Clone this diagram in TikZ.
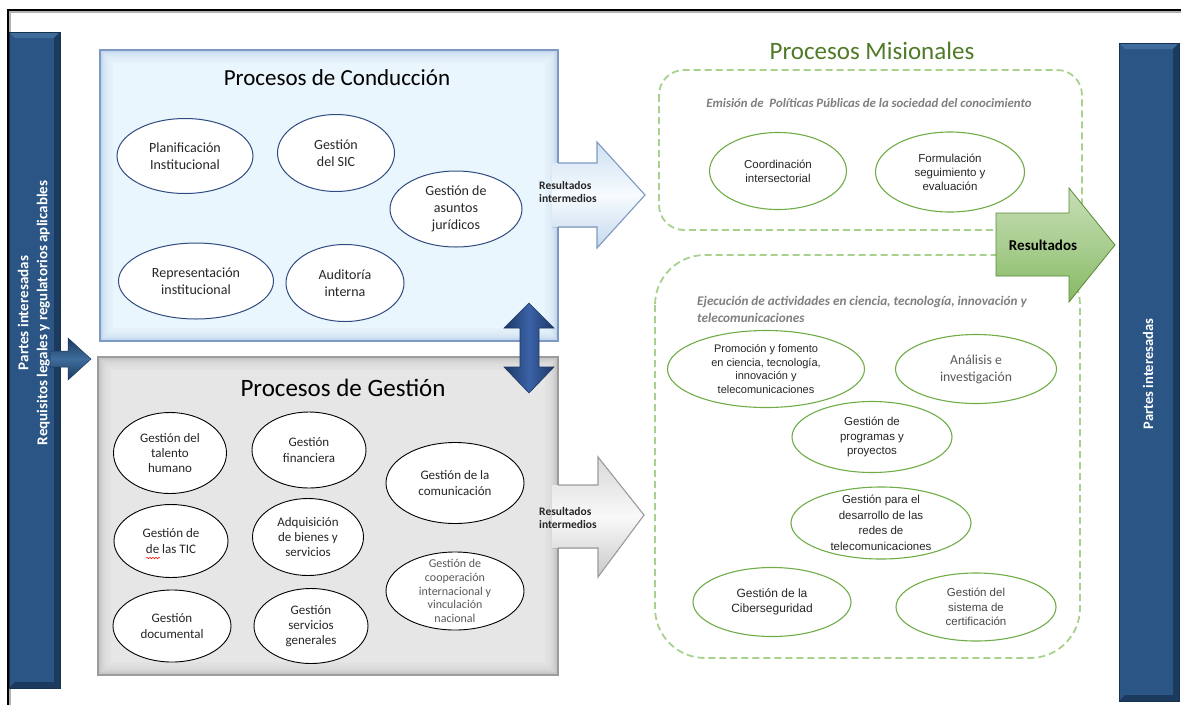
\documentclass[tikz,border=0pt]{standalone}
\usepackage{fontspec}
\setmainfont{Carlito}
\newfontfamily\arialf{Liberation Sans}
\usetikzlibrary{shapes.geometric,decorations.pathmorphing}
\definecolor{navy}{HTML}{1F3864}
\definecolor{midnavy}{HTML}{3A62A7}
\definecolor{barblue}{HTML}{2A5584}
\definecolor{barlight}{HTML}{3E6C9C}
\definecolor{bardark}{HTML}{1B3A5E}
\definecolor{barborder}{HTML}{17324F}
\definecolor{condfill}{HTML}{EAF6FD}
\definecolor{condedge}{HTML}{B8CFE8}
\definecolor{condborder}{HTML}{7F9AC2}
\definecolor{gestfill}{HTML}{E6E6E6}
\definecolor{gestedge}{HTML}{BDBDBD}
\definecolor{gestborder}{HTML}{9C9C9C}
\definecolor{ellblue}{HTML}{2F4A80}
\definecolor{misgreen}{HTML}{4F7A28}
\definecolor{dashgreen}{HTML}{A9D18E}
\definecolor{ellgreen}{HTML}{70AD47}
\definecolor{labgray}{HTML}{7F7F7F}
\definecolor{txtdark}{HTML}{262626}
\definecolor{txtgray}{HTML}{595959}
\newcommand\procell[7]{%
  \node[#2ell, minimum width=#4, minimum height=#5] (#1) at (#3) {};
  \node[#2txt, #6] (#1t) at (#1) {#7};}
\begin{document}
\begin{tikzpicture}[x=1pt,y=-1pt,
  condell/.style={ellipse,draw=ellblue,line width=1pt,fill=white,inner sep=0pt},
  condtxt/.style={align=center,inner sep=0pt,text=txtdark,font=\fontsize{14}{17}\selectfont},
  gestell/.style={ellipse,draw=black,line width=0.9pt,fill=white,inner sep=0pt},
  gesttxt/.style={align=center,inner sep=0pt,text=txtdark,font=\fontsize{13}{15.3}\selectfont},
  misell/.style={ellipse,draw=ellgreen,line width=1.1pt,fill=white,inner sep=0pt},
  mistxt/.style={align=center,inner sep=0pt,text=txtdark,font=\arialf\fontsize{11.5}{14}\selectfont},
  dashbox/.style={draw=dashgreen,line width=1.8pt,dash pattern=on 7pt off 4pt},
  barlabel/.style={rotate=90,align=center,text=white,inner sep=0pt,font=\bfseries\fontsize{15}{19}\selectfont},
  arrlabel/.style={align=left,inner sep=0pt,anchor=west,text=txtdark,font=\bfseries\fontsize{11.5}{13.5}\selectfont},
  cattxt/.style={inner sep=0pt,text=labgray,font=\bfseries\itshape\fontsize{12.8}{17}\selectfont}]
\useasboundingbox (0,0) rectangle (1181,705);
\fill[white] (0,0) rectangle (1181,705);
% outer frame
\draw[gray!60, line width=1.2pt] (10,705) -- (10,12) -- (1181,12);
\draw[black, line width=1.6pt] (8,705) -- (8,10) -- (1181,10);
% left bar
\fill[barblue] (9,32) rectangle (60,688);
\fill[barlight] (9,32) -- (60,32) -- (54,38) -- (15,38) -- cycle;
\fill[bardark] (60,32) -- (60,688) -- (54,682) -- (54,38) -- cycle;
\fill[bardark] (9,688) -- (60,688) -- (54,682) -- (15,682) -- cycle;
\draw[barborder, line width=0.6pt] (9,32) rectangle (60,688);
\node[barlabel] (leftlab) at (34,313) {Partes interesadas\\Requisitos legales y regulatorios aplicables};
% right bar
\fill[barblue] (1119,43) rectangle (1179,701);
\fill[barlight] (1119,43) -- (1179,43) -- (1173,49) -- (1125,49) -- cycle;
\fill[bardark] (1179,43) -- (1179,701) -- (1173,695) -- (1173,49) -- cycle;
\fill[bardark] (1119,701) -- (1179,701) -- (1173,695) -- (1125,695) -- cycle;
\draw[barborder, line width=0.6pt] (1119,43) rectangle (1179,701);
\node[barlabel, font=\bfseries\fontsize{14.5}{17}\selectfont] (rightlab) at (1148,374) {Partes interesadas};
% left small arrow
\path[draw=bardark, line width=0.5pt, top color=bardark, bottom color=bardark, middle color=barlight]
  (50,351) -- (68,351) -- (68,338) -- (91,359) -- (68,380) -- (68,367) -- (50,367) -- cycle;
% ---- Procesos de Conduccion box
\fill[condedge] (100,50) rectangle (558,341);
\foreach \k in {1,...,12} {\fill[condfill, opacity=0.2] ({100+\k},{50+\k}) rectangle ({558-\k},{341-\k});}
\fill[condfill] (113,63) rectangle (545,328);
\draw[condborder, line width=1.2pt] (100,50) rectangle (558,341);
\node[inner sep=0pt, font=\fontsize{23}{27}\selectfont] (condtitle) at (337,78) {Procesos de Conducción};
\procell{pl}{cond}{185,156}{136}{75}{}{Planificación\\Institucional}
\procell{sic}{cond}{336,153}{117}{77}{}{Gestión\\del SIC}
\procell{jur}{cond}{456,209}{132}{76}{}{Gestión de\\asuntos\\jurídicos}
\procell{rep}{cond}{196,281}{155}{76}{}{Representación\\institucional}
\procell{aud}{cond}{345,283}{118}{77}{}{Auditoría\\interna}
% ---- Procesos de Gestion box
\fill[gestedge] (98,357) rectangle (558,675);
\foreach \k in {1,...,12} {\fill[gestfill, opacity=0.2] ({98+\k},{357+\k}) rectangle ({558-\k},{675-\k});}
\fill[gestfill] (111,370) rectangle (545,662);
\draw[gestborder, line width=1.2pt] (98,357) rectangle (558,675);
\node[inner sep=0pt, font=\fontsize{25}{29}\selectfont] (gesttitle) at (343,388) {Procesos de Gestión};
\procell{tal}{gest}{170,453}{113}{81}{}{Gestión del\\talento\\humano}
\procell{fin}{gest}{309,450}{114}{76}{}{Gestión\\financiera}
\procell{com}{gest}{455,483}{138}{81}{}{Gestión de la\\comunicación}
\procell{tic}{gest}{171,541}{114}{73}{}{Gestión de\\de las TIC}
\procell{adq}{gest}{308,537}{111}{77}{}{Adquisición\\de bienes y\\servicios}
\procell{coop}{gest}{455,591}{138}{78}{text=txtgray,font=\fontsize{12}{13.8}\selectfont}{Gestión de\\cooperación\\internacional y\\vinculación\\nacional}
\procell{doc}{gest}{172,626}{118}{72}{}{Gestión\\documental}
\procell{ser}{gest}{311,626}{114}{75}{}{Gestión\\servicios\\generales}
\draw[red, line width=0.5pt, decorate, decoration={snake, amplitude=0.7pt, segment length=3pt}] (146,558) -- (160,558);
% ---- result arrows
\path[fill, top color=condedge!55!condfill, bottom color=condedge!75!condfill, middle color=condfill!40!white]
  (552,163) -- (597,163) -- (597,142) -- (645,195) -- (597,248) -- (597,227) -- (552,227) -- cycle;
\draw[condborder, line width=1.1pt, line join=miter]
  (558,163) -- (597,163) -- (597,142) -- (645,195) -- (597,248) -- (597,227) -- (558,227);
\node[arrlabel] (res1) at (539,192) {Resultados\\intermedios};
\path[fill, top color=gray!30, bottom color=gray!42, middle color=gray!5]
  (552,485) -- (598,485) -- (598,457) -- (644,515) -- (598,577) -- (598,548) -- (552,548) -- cycle;
\draw[gestborder, line width=1.1pt, line join=miter]
  (558,485) -- (598,485) -- (598,457) -- (644,515) -- (598,577) -- (598,548) -- (558,548);
\node[arrlabel] (res2) at (539,518) {Resultados\\intermedios};
% double arrow
\path[draw=navy, line width=0.6pt, left color=navy, right color=navy, middle color=midnavy]
  (504,328) -- (529,303) -- (554,328) -- (539,328) -- (539,367) -- (554,367) -- (529,393)
  -- (504,367) -- (520,367) -- (520,328) -- cycle;
% ---- Procesos Misionales
\node[inner sep=0pt, text=misgreen, font=\fontsize{25}{29}\selectfont] (mistitle) at (872,51) {Procesos Misionales};
\draw[dashbox, rounded corners=25pt] (659,70) rectangle (1082,230);
\draw[dashbox, rounded corners=50pt] (655,255) rectangle (1080,658);
\node[cattxt] (cat1) at (869,103) {Emisión de\ \ Políticas Públicas de la sociedad del conocimiento};
\node[cattxt, anchor=west, align=left, font=\bfseries\itshape\fontsize{13.2}{17}\selectfont] (cat2) at (697,309) {Ejecución de actividades en ciencia, tecnología, innovación y\\telecomunicaciones};
\procell{coord}{mis}{778,171}{137}{77}{}{Coordinación\\intersectorial}
\procell{form}{mis}{950,172}{149}{80}{}{Formulación\\seguimiento y\\evaluación}
\procell{prom}{mis}{766,369}{197}{77}{font=\arialf\fontsize{11}{13.8}\selectfont}{Promoción y fomento\\en ciencia, tecnología,\\innovación y\\telecomunicaciones}
\procell{anal}{mis}{976,369}{161}{69}{text=txtgray,font=\fontsize{13.7}{17}\selectfont}{Análisis e\\investigación}
\procell{prog}{mis}{872,437}{160}{71}{font=\arialf\fontsize{11.5}{14.5}\selectfont}{Gestión de\\programas y\\proyectos}
\procell{redes}{mis}{881,523}{180}{72}{font=\arialf\fontsize{11.5}{15.5}\selectfont}{Gestión para el\\desarrollo de las\\redes de\\telecomunicaciones}
\procell{ciber}{mis}{772,602}{158}{69}{font=\arialf\fontsize{12}{15}\selectfont}{Gestión de la\\Ciberseguridad}
\procell{cert}{mis}{976,607}{160}{68}{text=txtgray!80!black,font=\arialf\fontsize{11.5}{14.5}\selectfont}{Gestión del\\sistema de\\certificación}
% green result arrow
\path[draw=ellgreen!80!black, line width=0.8pt, line join=miter, top color=ellgreen!40!white, bottom color=ellgreen!85!white, middle color=ellgreen!60!white]
  (996,213) -- (1069,213) -- (1069,188) -- (1115,245) -- (1069,302) -- (1069,276) -- (996,276) -- cycle;
\node[inner sep=0pt, font=\bfseries\fontsize{15}{18}\selectfont] (res3) at (1043,245) {Resultados};
\end{tikzpicture}
\end{document}
